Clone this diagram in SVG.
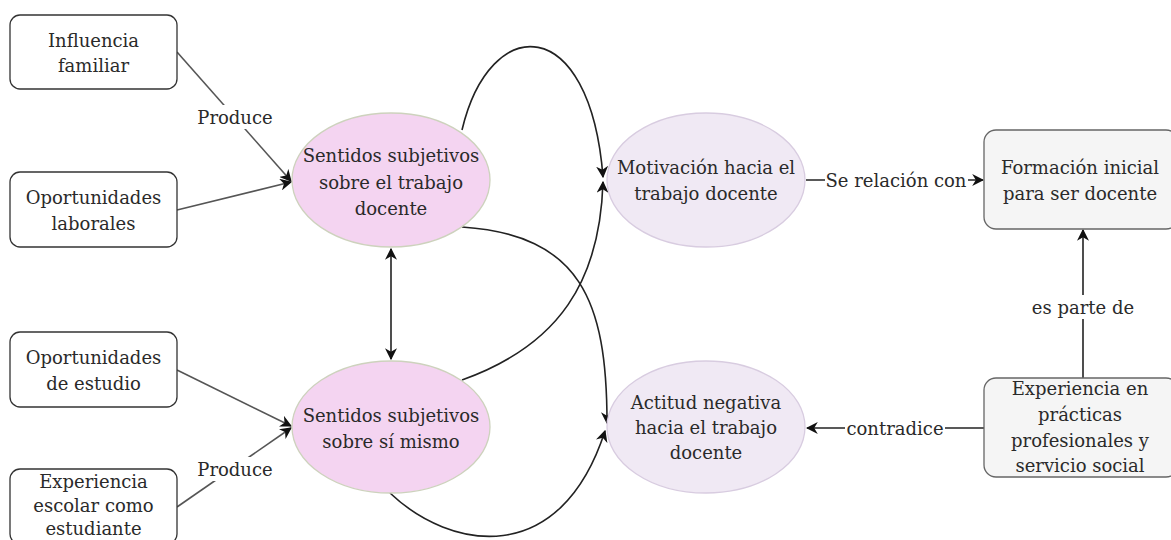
<svg xmlns="http://www.w3.org/2000/svg" width="1171" height="540" viewBox="0 0 1171 540">
<defs>
<style>
.t{font-family:"DejaVu Serif","Liberation Serif",serif;font-size:18px;fill:#2a2a2a;text-anchor:middle;dominant-baseline:central}
.box{fill:#fff;stroke:#333;stroke-width:1.3}
.gbox{fill:#f5f5f5;stroke:#666;stroke-width:1.3}
.pink{fill:#f4d4f1;stroke:#cdd2bd;stroke-width:1.3}
.lav{fill:#f0e9f4;stroke:#d8cce0;stroke-width:1.3}
.c{fill:none;stroke:#222;stroke-width:1.6}
.g{fill:none;stroke:#555;stroke-width:1.6}
.lbg{fill:#fff}
</style>
<marker id="ah" viewBox="0 0 10 10" refX="9" refY="5" markerWidth="12" markerHeight="12" markerUnits="userSpaceOnUse" orient="auto-start-reverse">
<path d="M0,0 L10,5 L0,10 L3,5 Z" fill="#111"/>
</marker>
</defs>
<rect width="1171" height="540" fill="#fff"/>

<g id="connectors">
<line class="g" x1="177" y1="52" x2="291" y2="181" marker-end="url(#ah)"/>
<line class="g" x1="177" y1="210" x2="291" y2="182" marker-end="url(#ah)"/>
<line class="g" x1="177" y1="370" x2="291" y2="426" marker-end="url(#ah)"/>
<line class="g" x1="177" y1="507" x2="291" y2="428" marker-end="url(#ah)"/>
<line class="c" x1="391" y1="249" x2="391" y2="359" marker-start="url(#ah)" marker-end="url(#ah)"/>
<path class="c" d="M462,130 C490,12 590,12 603,177" marker-end="url(#ah)"/>
<path class="c" d="M462,380 C560,345 600,280 603,182" marker-end="url(#ah)"/>
<path class="c" d="M462,227 C580,235 607,300 607,423" marker-end="url(#ah)"/>
<path class="c" d="M390,493 C450,550 560,570 605,431" marker-end="url(#ah)"/>
<line class="c" x1="806" y1="180" x2="983" y2="180" marker-end="url(#ah)"/>
<line class="c" x1="1083" y1="378" x2="1083" y2="230" marker-end="url(#ah)"/>
<line class="c" x1="984" y1="428" x2="807" y2="428" marker-end="url(#ah)"/>
<rect class="lbg" x="197" y="105" width="76" height="24"/>
<text class="t" x="235" y="117">Produce</text>
<rect class="lbg" x="197" y="457" width="76" height="24"/>
<text class="t" x="235" y="469">Produce</text>
<rect class="lbg" x="825" y="168" width="143" height="24"/>
<text class="t" x="896" y="180">Se relación con</text>
<rect class="lbg" x="1034" y="295" width="98" height="24"/>
<text class="t" x="1083" y="307">es parte de</text>
<rect class="lbg" x="845" y="416" width="100" height="24"/>
<text class="t" x="895" y="428">contradice</text>
</g>

<g id="influencia">
<rect class="box" x="10" y="15" width="167" height="74" rx="10"/>
<text class="t" x="93.5" y="40">Influencia</text>
<text class="t" x="93.5" y="65">familiar</text>
</g>
<g id="oport-laborales">
<rect class="box" x="10" y="172" width="167" height="75" rx="10"/>
<text class="t" x="93.5" y="197">Oportunidades</text>
<text class="t" x="93.5" y="223">laborales</text>
</g>
<g id="oport-estudio">
<rect class="box" x="10" y="332" width="167" height="75" rx="10"/>
<text class="t" x="93.5" y="357">Oportunidades</text>
<text class="t" x="93.5" y="383">de estudio</text>
</g>
<g id="exp-escolar">
<rect class="box" x="10" y="469" width="167" height="75" rx="10"/>
<text class="t" x="93.5" y="481">Experiencia</text>
<text class="t" x="93.5" y="505">escolar como</text>
<text class="t" x="93.5" y="528">estudiante</text>
</g>
<g id="sentidos-trabajo">
<ellipse class="pink" cx="391" cy="180" rx="99" ry="67"/>
<text class="t" x="391" y="155">Sentidos subjetivos</text>
<text class="t" x="391" y="182">sobre el trabajo</text>
<text class="t" x="391" y="208">docente</text>
</g>
<g id="sentidos-mismo">
<ellipse class="pink" cx="391" cy="427" rx="99" ry="66"/>
<text class="t" x="391" y="415">Sentidos subjetivos</text>
<text class="t" x="391" y="441">sobre sí mismo</text>
</g>
<g id="motivacion">
<ellipse class="lav" cx="706" cy="180" rx="99" ry="67"/>
<text class="t" x="706" y="167">Motivación hacia el</text>
<text class="t" x="706" y="193">trabajo docente</text>
</g>
<g id="actitud">
<ellipse class="lav" cx="706" cy="427" rx="99" ry="66"/>
<text class="t" x="706" y="402">Actitud negativa</text>
<text class="t" x="706" y="427">hacia el trabajo</text>
<text class="t" x="706" y="452">docente</text>
</g>
<g id="formacion">
<rect class="gbox" x="984" y="130" width="194" height="99" rx="12"/>
<text class="t" x="1080" y="167">Formación inicial</text>
<text class="t" x="1080" y="193">para ser docente</text>
</g>
<g id="experiencia-practicas">
<rect class="gbox" x="984" y="378" width="194" height="99" rx="12"/>
<text class="t" x="1080" y="388">Experiencia en</text>
<text class="t" x="1080" y="414">prácticas</text>
<text class="t" x="1080" y="440">profesionales y</text>
<text class="t" x="1080" y="465">servicio social</text>
</g>
</svg>
